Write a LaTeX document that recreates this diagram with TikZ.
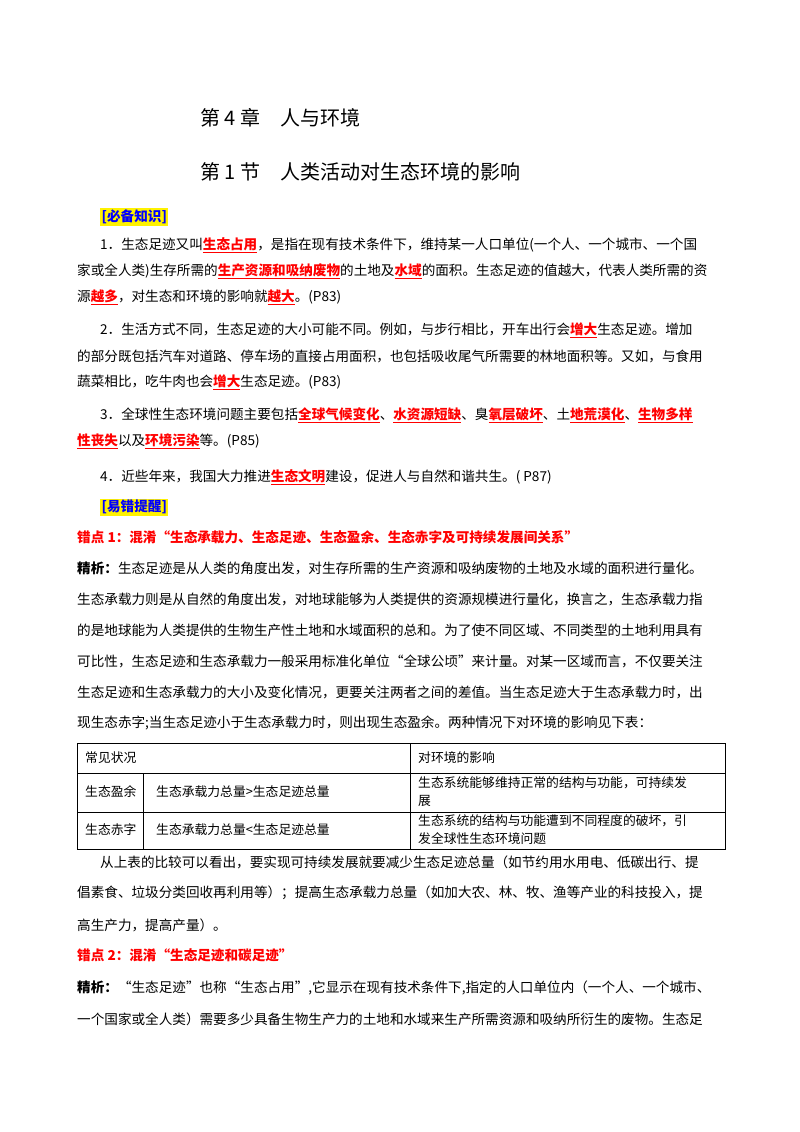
\documentclass[tikz,border=0pt]{standalone}
\usepackage{fontspec}
\setmainfont{Noto Sans CJK SC}
\usepackage{xcolor}
\newcommand{\hl}[1]{\textcolor{red}{\textbf{\underline{#1}}}}
\begin{document}
\begin{tikzpicture}[x=1pt,y=-1pt,
  line/.style={anchor=west,inner sep=0,font=\fontsize{13.6}{14}\selectfont},
  cell/.style={anchor=west,inner sep=0,font=\fontsize{12.8}{14}\selectfont},
  title/.style={anchor=west,inner sep=0,font=\fontsize{20}{22}\selectfont},
  tag/.style={anchor=west,inner sep=1.5pt,fill=yellow,text=blue,font=\fontsize{13.6}{14}\selectfont\bfseries},
  err/.style={anchor=west,inner sep=0,text=red,font=\fontsize{13.6}{14}\selectfont\bfseries}]
\useasboundingbox (0,0) rectangle (800,1132);
\node[title] (t1) at (200,118) {第 4 章\quad 人与环境};
\node[title] (t2) at (200,172) {第 1 节\quad 人类活动对生态环境的影响};
\node[tag] (k1) at (100,217) {[必备知识]};
\node[line] (p1) at (100,245) {1．生态足迹又叫\hl{生态占用}，是指在现有技术条件下，维持某一人口单位(一个人、一个城市、一个国};
\node[line] (p2) at (77,271) {家或全人类)生存所需的\hl{生产资源和吸纳废物}的土地及\hl{水域}的面积。生态足迹的值越大，代表人类所需的资};
\node[line] (p3) at (77,297) {源\hl{越多}，对生态和环境的影响就\hl{越大}。(P83)};
\node[line] (p4) at (100,330) {2．生活方式不同，生态足迹的大小可能不同。例如，与步行相比，开车出行会\hl{增大}生态足迹。增加};
\node[line] (p5) at (77,356) {的部分既包括汽车对道路、停车场的直接占用面积，也包括吸收尾气所需要的林地面积等。又如，与食用};
\node[line] (p6) at (77,382) {蔬菜相比，吃牛肉也会\hl{增大}生态足迹。(P83)};
\node[line] (p7) at (100,415) {3．全球性生态环境问题主要包括\hl{全球气候变化}、\hl{水资源短缺}、臭\hl{氧层破坏}、土\hl{地荒漠化}、\hl{生物多样}};
\node[line] (p8) at (77,441) {\hl{性丧失}以及\hl{环境污染}等。(P85)};
\node[line] (p9) at (100,477) {4．近些年来，我国大力推进\hl{生态文明}建设，促进人与自然和谐共生。( P87)};
\node[tag] (k2) at (100,507) {[易错提醒]};
\node[err] (e1) at (77,537) {错点 1：混淆“生态承载力、生态足迹、生态盈余、生态赤字及可持续发展间关系”};
\node[line] (q1) at (77,568) {\textbf{精析：}生态足迹是从人类的角度出发，对生存所需的生产资源和吸纳废物的土地及水域的面积进行量化。};
\node[line] (q2) at (77,599) {生态承载力则是从自然的角度出发，对地球能够为人类提供的资源规模进行量化，换言之，生态承载力指};
\node[line] (q3) at (77,630) {的是地球能为人类提供的生物生产性土地和水域面积的总和。为了使不同区域、不同类型的土地利用具有};
\node[line] (q4) at (77,661) {可比性，生态足迹和生态承载力一般采用标准化单位“全球公顷”来计量。对某一区域而言，不仅要关注};
\node[line] (q5) at (77,692) {生态足迹和生态承载力的大小及变化情况，更要关注两者之间的差值。当生态足迹大于生态承载力时，出};
\node[line] (q6) at (77,723) {现生态赤字;当生态足迹小于生态承载力时，则出现生态盈余。两种情况下对环境的影响见下表：};
% table
\draw[line width=0.6pt] (77,743) rectangle (725,849);
\draw[line width=0.6pt] (77,773) -- (725,773) (77,812) -- (725,812);
\draw[line width=0.6pt] (410,743) -- (410,849) (143,773) -- (143,849);
\node[cell] (c1) at (85,758) {常见状况};
\node[cell] (c2) at (418,758) {对环境的影响};
\node[cell] (c3) at (85,792) {生态盈余};
\node[cell] (c4) at (156,792) {生态承载力总量>生态足迹总量};
\node[cell] (c5) at (418,783) {生态系统能够维持正常的结构与功能，可持续发};
\node[cell] (c6) at (418,801) {展};
\node[cell] (c7) at (85,830) {生态赤字};
\node[cell] (c8) at (156,830) {生态承载力总量<生态足迹总量};
\node[cell] (c9) at (418,821) {生态系统的结构与功能遭到不同程度的破坏，引};
\node[cell] (c10) at (418,839) {发全球性生态环境问题};
\node[line] (r1) at (100,862) {从上表的比较可以看出，要实现可持续发展就要减少生态足迹总量（如节约用水用电、低碳出行、提};
\node[line] (r2) at (77,893) {倡素食、垃圾分类回收再利用等）；提高生态承载力总量（如加大农、林、牧、渔等产业的科技投入，提};
\node[line] (r3) at (77,925) {高生产力，提高产量）。};
\node[err] (e2) at (77,955) {错点 2：混淆“生态足迹和碳足迹”};
\node[line] (s1) at (77,988) {\textbf{精析：}“生态足迹”也称“生态占用”,它显示在现有技术条件下,指定的人口单位内（一个人、一个城市、};
\node[line] (s2) at (77,1019) {一个国家或全人类）需要多少具备生物生产力的土地和水域来生产所需资源和吸纳所衍生的废物。生态足};
\end{tikzpicture}
\end{document}
